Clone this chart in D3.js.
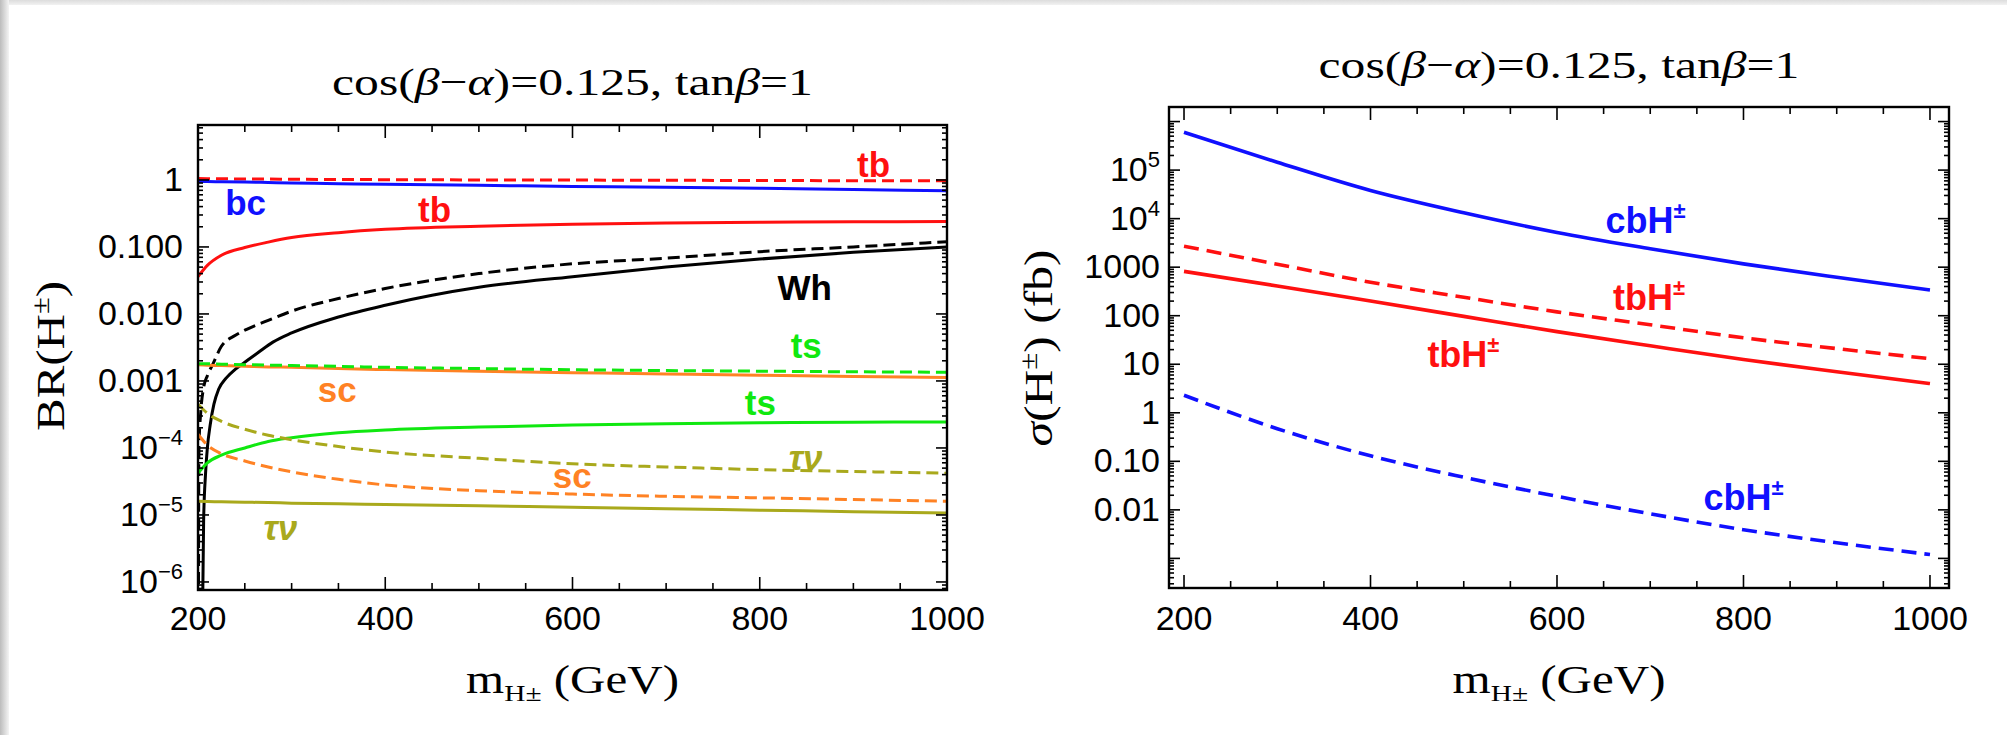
<!DOCTYPE html>
<html>
<head>
<meta charset="utf-8">
<script src="https://cdn.jsdelivr.net/npm/d3@7"></script>
<style>
  html, body { margin: 0; padding: 0; background: #fff; }
  svg { display: block; }
</style>
</head>
<body>
<div id="chart"></div>
<script>
// ---------------- data ----------------

// Left panel: branching ratios of H+- vs mass
const massBR = [200, 210, 225, 250, 275, 300, 350, 400, 500, 600, 700, 800, 900, 1000];
const brTbDashed = [1.05, 1.045, 1.04, 1.035, 1.03, 1.025, 1.015, 1.01, 1.0, 0.995, 0.99, 0.98, 0.975, 0.97];
const brBcSolid  = [0.95, 0.945, 0.94, 0.93, 0.915, 0.9, 0.88, 0.86, 0.83, 0.8, 0.775, 0.75, 0.72, 0.69];
const brTbSolid  = [0.036, 0.053, 0.075, 0.098, 0.118, 0.138, 0.163, 0.183, 0.204, 0.218, 0.227, 0.233, 0.237, 0.24];
const brTsDashed = [0.0018, 0.0018, 0.00178, 0.00175, 0.00172, 0.0017, 0.00165, 0.0016, 0.00153, 0.00147, 0.00143, 0.0014, 0.00137, 0.00135];
const brScSolid  = [0.00175, 0.00172, 0.0017, 0.00166, 0.00162, 0.0016, 0.00153, 0.00148, 0.0014, 0.00133, 0.00127, 0.00122, 0.00117, 0.00113];
const brTsSolid  = [4.2e-5, 6e-5, 7.8e-5, 1.0e-4, 1.25e-4, 1.42e-4, 1.68e-4, 1.85e-4, 2.05e-4, 2.2e-4, 2.3e-4, 2.37e-4, 2.42e-4, 2.45e-4];
const brTauDashed = [4.5e-4, 3.3e-4, 2.5e-4, 1.9e-4, 1.55e-4, 1.33e-4, 1.05e-4, 8.7e-5, 7e-5, 5.8e-5, 5.2e-5, 4.75e-5, 4.45e-5, 4.2e-5];
const brScDashed = [1.6e-4, 1.1e-4, 8.2e-5, 6.4e-5, 5.2e-5, 4.4e-5, 3.4e-5, 2.8e-5, 2.3e-5, 2.05e-5, 1.9e-5, 1.8e-5, 1.7e-5, 1.6e-5];
const brTauSolid = [1.6e-5, 1.59e-5, 1.57e-5, 1.55e-5, 1.53e-5, 1.5e-5, 1.47e-5, 1.43e-5, 1.37e-5, 1.3e-5, 1.24e-5, 1.18e-5, 1.12e-5, 1.07e-5];

// Wh opens near threshold, so it has its own mass grid
const massWhSolid = [205, 206, 208, 210, 213, 217, 222, 230, 240, 250, 265, 280, 300, 350, 400, 450, 500, 600, 700, 800, 900, 1000];
const brWhSolid   = [5e-7, 8e-6, 4e-5, 1e-4, 2.2e-4, 4.5e-4, 7.5e-4, 1.1e-3, 1.5e-3, 1.9e-3, 2.7e-3, 3.8e-3, 5.2e-3, 9e-3, 0.0135, 0.019, 0.025, 0.036, 0.05, 0.066, 0.083, 0.1];
const massWhDashed = [200.5, 201, 203, 206, 210, 216, 225, 240, 252, 275, 300, 350, 400, 500, 600, 700, 800, 900, 1000];
const brWhDashed   = [5e-7, 1e-4, 3.5e-4, 8e-4, 1.2e-3, 1.8e-3, 3.3e-3, 4.8e-3, 5.9e-3, 8e-3, 0.011, 0.017, 0.024, 0.04, 0.056, 0.068, 0.085, 0.1, 0.12];

const brTickValues = [1, 0.1, 0.01, 0.001, 1e-4, 1e-5, 1e-6];
const brTickBase   = ['1', '0.100', '0.010', '0.001', '10', '10', '10'];
const brTickSup    = ['', '', '', '', '\u22124', '\u22125', '\u22126'];

// Right panel: production cross sections (fb)
const massXS = [200, 300, 400, 500, 600, 700, 800, 900, 1000];
const xsCbSolid  = [6.0e5, 1.45e5, 3.8e4, 1.32e4, 5.2e3, 2.4e3, 1.17e3, 620, 340];
const xsTbDashed = [2700, 1150, 490, 240, 120, 65, 35, 21, 13];
const xsTbSolid  = [820, 410, 200, 97, 47, 24, 12.5, 7.0, 4.0];
const xsCbDashed = [2.3, 0.47, 0.13, 0.047, 0.019, 0.0083, 0.0039, 0.0021, 0.0012];

const xsTickValues = [1e5, 1e4, 1000, 100, 10, 1, 0.1, 0.01];
const xsTickBase   = ['10', '10', '1000', '100', '10', '1', '0.10', '0.01'];
const xsTickSup    = ['5', '4', '', '', '', '', '', ''];

const massTicks = [200, 400, 600, 800, 1000];

// ---------------- styling ----------------
const W = 2007, H = 735;
const C = {
    blue: '#1010ff', red: '#ff1010', green: '#10e810', orange: '#ff8224',
    olive: '#a9a91c', black: '#000'
};
const SANS = '"Liberation Sans", Arial, sans-serif';
const SERIF = '"Liberation Serif", "Times New Roman", serif';

const svg = d3.select('#chart').append('svg')
    .attr('width', W).attr('height', H);

// page shadow along top and left edge
const defs = svg.append('defs');
const gTop = defs.append('linearGradient').attr('id', 'shTop').attr('x1', 0).attr('y1', 0).attr('x2', 0).attr('y2', 1);
gTop.append('stop').attr('offset', 0).attr('stop-color', '#dcdcdc');
gTop.append('stop').attr('offset', 1).attr('stop-color', '#f2f2f2');
const gLeft = defs.append('linearGradient').attr('id', 'shLeft').attr('x1', 0).attr('y1', 0).attr('x2', 1).attr('y2', 0);
gLeft.append('stop').attr('offset', 0).attr('stop-color', '#bcbcbc');
gLeft.append('stop').attr('offset', 1).attr('stop-color', '#f4f4f4');
svg.append('rect').attr('width', W).attr('height', H).attr('fill', '#fff');
svg.append('rect').attr('x', 0).attr('y', 0).attr('width', W).attr('height', 5).attr('fill', 'url(#shTop)');
svg.append('rect').attr('x', 0).attr('y', 0).attr('width', 9).attr('height', H).attr('fill', 'url(#shLeft)');

/**
 * Squeeze/stretch a text so its drawn width matches the reference
 */
function fitWidth(textSel, target) {
    const w = textSel.node().getBBox().width;
    if (w > 0) textSel.attr('transform', `scale(${target / w},1)`);
}

function zipSeries(xs, ys) {
    return xs.map((m, i) => [m, ys[i]]);
}

/**
 * Draw one framed log-scale panel
 */
function drawPanel(cfg) {
    const f = cfg.frame;
    const x = d3.scaleLinear().domain(cfg.xDomain).range([f.x0, f.x1]);
    const y = d3.scaleLog().domain(cfg.yDomain).range([f.y1, f.y0]);
    const g = svg.append('g').attr('class', cfg.id);

    defs.append('clipPath').attr('id', 'clip-' + cfg.id)
        .append('rect').attr('x', f.x0).attr('y', f.y0)
        .attr('width', f.x1 - f.x0).attr('height', f.y1 - f.y0);

    // curves
    const line = d3.line()
        .x(d => x(d[0]))
        .y(d => y(d[1]))
        .curve(d3.curveMonotoneX);
    const curves = g.append('g').attr('clip-path', `url(#clip-${cfg.id})`);
    cfg.series.forEach(s => {
        curves.append('path')
            .datum(zipSeries(s.mass, s.values))
            .attr('d', line)
            .attr('fill', 'none')
            .attr('stroke', s.color)
            .attr('stroke-width', cfg.lineWidth)
            .attr('stroke-dasharray', s.dashed ? cfg.dash : null);
    });

    // ticks on all four sides
    const tk = g.append('g').attr('stroke', '#000').attr('stroke-width', 1.6);
    d3.range(200, 1001, 50).forEach(m => {
        const len = m % 200 === 0 ? 13 : 7;
        const px = x(m);
        tk.append('line').attr('x1', px).attr('x2', px).attr('y1', f.y1).attr('y2', f.y1 - len);
        tk.append('line').attr('x1', px).attr('x2', px).attr('y1', f.y0).attr('y2', f.y0 + len);
    });
    const [lo, hi] = cfg.yDomain.map(v => Math.log10(v));
    for (let d = Math.floor(lo); d <= Math.ceil(hi); d++) {
        for (let k = 1; k <= 9; k++) {
            const v = k * Math.pow(10, d);
            if (v < cfg.yDomain[0] || v > cfg.yDomain[1]) continue;
            const len = k === 1 ? 11 : 5;
            const py = y(v);
            tk.append('line').attr('x1', f.x0).attr('x2', f.x0 + len).attr('y1', py).attr('y2', py);
            tk.append('line').attr('x1', f.x1).attr('x2', f.x1 - len).attr('y1', py).attr('y2', py);
        }
    }

    // frame
    g.append('rect')
        .attr('x', f.x0).attr('y', f.y0)
        .attr('width', f.x1 - f.x0).attr('height', f.y1 - f.y0)
        .attr('fill', 'none').attr('stroke', '#000').attr('stroke-width', 2.4);

    // x tick labels
    g.append('g').selectAll('text').data(massTicks).join('text')
        .attr('x', d => x(d)).attr('y', 630)
        .attr('text-anchor', 'middle')
        .style('font', `34px ${SANS}`)
        .text(d => d);

    // y tick labels (with superscripts)
    cfg.yTicks.values.forEach((v, i) => {
        const t = g.append('text')
            .attr('x', cfg.yLabelX).attr('y', y(v) + 11)
            .attr('text-anchor', 'end')
            .style('font', `34px ${SANS}`);
        t.append('tspan').text(cfg.yTicks.base[i]);
        if (cfg.yTicks.sup[i]) {
            t.append('tspan').attr('dy', -14).style('font-size', '22px').text(cfg.yTicks.sup[i]);
        }
    });

    // title
    const tg = g.append('g').attr('transform', `translate(${(f.x0 + f.x1) / 2},${cfg.titleY})`);
    const tt = tg.append('text').attr('text-anchor', 'middle').style('font', `39px ${SERIF}`);
    tt.append('tspan').text('cos(');
    tt.append('tspan').style('font-style', 'italic').text('\u03b2');
    tt.append('tspan').text('\u2212');
    tt.append('tspan').style('font-style', 'italic').text('\u03b1');
    tt.append('tspan').text(')=0.125, tan');
    tt.append('tspan').style('font-style', 'italic').text('\u03b2');
    tt.append('tspan').text('=1');
    fitWidth(tt, 481);

    // x axis title: m_{H±} (GeV)
    const xg = g.append('g').attr('transform', `translate(${(f.x0 + f.x1) / 2},693)`);
    const xt = xg.append('text').attr('text-anchor', 'middle').style('font', `40px ${SERIF}`);
    xt.append('tspan').text('m');
    xt.append('tspan').attr('dy', 8).style('font-size', '24px').text('H\u00b1');
    xt.append('tspan').attr('dy', -8).text(' (GeV)');
    fitWidth(xt, 213);

    // y axis title (rotated)
    const yg = g.append('g').attr('transform', `translate(${cfg.yTitle.x},${cfg.yTitle.y}) rotate(-90)`);
    const yt = yg.append('text').attr('text-anchor', 'middle').style('font', `40px ${SERIF}`);
    cfg.yTitle.parts.forEach(p => {
        const ts = yt.append('tspan').text(p.t);
        if (p.sup) ts.attr('dy', -15).style('font-size', '25px');
        if (p.back) ts.attr('dy', 15);
        if (p.italic) ts.style('font-style', 'italic');
    });
    fitWidth(yt, cfg.yTitle.width);

    // curve annotations, placed in data coordinates
    cfg.labels.forEach(l => {
        const t = g.append('text')
            .attr('x', x(l.m)).attr('y', y(l.v))
            .attr('fill', l.color)
            .style('font', `bold ${cfg.labelSize}px ${SANS}`)
            .style('font-style', l.italic ? 'italic' : null);
        t.append('tspan').text(l.text);
        if (l.sup) t.append('tspan').attr('dy', -15).style('font-size', '22px').text(l.sup);
    });
}

// ---------------- left panel: BR(H±) ----------------
drawPanel({
    id: 'br',
    frame: { x0: 198, x1: 947, y0: 125, y1: 590 },
    xDomain: [200, 1000],
    yDomain: [Math.pow(10, -6.12), Math.pow(10, 0.82)],
    lineWidth: 3,
    dash: '12,6',
    titleY: 95,
    yLabelX: 183,
    yTicks: { values: brTickValues, base: brTickBase, sup: brTickSup },
    yTitle: {
        x: 64, y: 356, width: 150,
        parts: [{ t: 'BR(H' }, { t: '\u00b1', sup: true }, { t: ')', back: true }]
    },
    labelSize: 35,
    series: [
        { mass: massBR, values: brTbDashed, color: C.red, dashed: true },
        { mass: massBR, values: brBcSolid, color: C.blue },
        { mass: massBR, values: brTbSolid, color: C.red },
        { mass: massWhDashed, values: brWhDashed, color: C.black, dashed: true },
        { mass: massWhSolid, values: brWhSolid, color: C.black },
        { mass: massBR, values: brScSolid, color: C.orange },
        { mass: massBR, values: brTsDashed, color: C.green, dashed: true },
        { mass: massBR, values: brTsSolid, color: C.green },
        { mass: massBR, values: brTauDashed, color: C.olive, dashed: true },
        { mass: massBR, values: brScDashed, color: C.orange, dashed: true },
        { mass: massBR, values: brTauSolid, color: C.olive }
    ],
    labels: [
        { text: 'tb', m: 904, v: 1.11, color: C.red },
        { text: 'bc', m: 229, v: 0.30, color: C.blue },
        { text: 'tb', m: 435, v: 0.236, color: C.red },
        { text: 'Wh', m: 819, v: 0.0162, color: C.black },
        { text: 'ts', m: 833, v: 0.00221, color: C.green },
        { text: 'sc', m: 328, v: 4.9e-4, color: C.orange },
        { text: 'ts', m: 784, v: 3.1e-4, color: C.green },
        { text: '\u03c4\u03bd', m: 831, v: 4.7e-5, color: C.olive, italic: true },
        { text: 'sc', m: 579, v: 2.5e-5, color: C.orange },
        { text: '\u03c4\u03bd', m: 270, v: 4.2e-6, color: C.olive, italic: true }
    ]
});

// ---------------- right panel: σ(H±) ----------------
drawPanel({
    id: 'xs',
    frame: { x0: 1169, x1: 1949, y0: 107, y1: 588 },
    xDomain: [183.9, 1020.4],
    yDomain: [Math.pow(10, -3.61), Math.pow(10, 6.30)],
    lineWidth: 3.6,
    dash: '15,8',
    titleY: 78,
    yLabelX: 1160,
    yTicks: { values: xsTickValues, base: xsTickBase, sup: xsTickSup },
    yTitle: {
        x: 1052, y: 348, width: 197,
        parts: [{ t: '\u03c3', italic: true }, { t: '(H' }, { t: '\u00b1', sup: true }, { t: ') (fb)', back: true }]
    },
    labelSize: 36,
    series: [
        { mass: massXS, values: xsCbSolid, color: C.blue },
        { mass: massXS, values: xsTbDashed, color: C.red, dashed: true },
        { mass: massXS, values: xsTbSolid, color: C.red },
        { mass: massXS, values: xsCbDashed, color: C.blue, dashed: true }
    ],
    labels: [
        { text: 'cbH', sup: '\u00b1', m: 652, v: 5050, color: C.blue },
        { text: 'tbH', sup: '\u00b1', m: 660, v: 131, color: C.red },
        { text: 'tbH', sup: '\u00b1', m: 461, v: 8.8, color: C.red },
        { text: 'cbH', sup: '\u00b1', m: 757, v: 0.01, color: C.blue }
    ]
});
</script>
</body>
</html>
